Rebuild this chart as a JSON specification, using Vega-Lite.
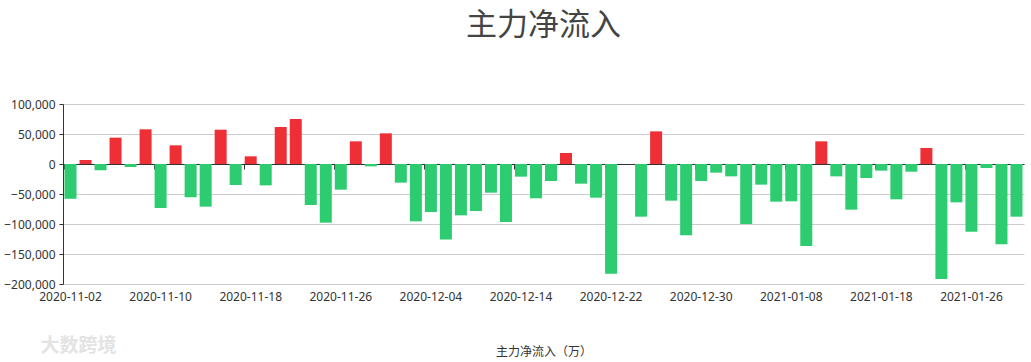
{
  "$schema": "https://vega.github.io/schema/vega-lite/v6.json",
  "width": 961,
  "height": 180,
  "autosize": {"type": "none"},
  "padding": {"left": 63, "top": 104, "right": 7, "bottom": 78},
  "background": "white",
  "title": {"text": "主力净流入", "font": "Noto Sans CJK SC", "fontSize": 31, "fontWeight": "normal", "color": "#444", "anchor": "middle", "offset": 56},
  "config": {"view": {"stroke": null}},
  "data": {"values": [
    {"date": "2020-11-02", "v": -58000},
    {"date": "2020-11-03", "v": 6700},
    {"date": "2020-11-04", "v": -10500},
    {"date": "2020-11-05", "v": 43900},
    {"date": "2020-11-06", "v": -5000},
    {"date": "2020-11-09", "v": 57800},
    {"date": "2020-11-10", "v": -73300},
    {"date": "2020-11-11", "v": 31100},
    {"date": "2020-11-12", "v": -55600},
    {"date": "2020-11-13", "v": -71100},
    {"date": "2020-11-16", "v": 57200},
    {"date": "2020-11-17", "v": -35000},
    {"date": "2020-11-18", "v": 12800},
    {"date": "2020-11-19", "v": -35600},
    {"date": "2020-11-20", "v": 61700},
    {"date": "2020-11-23", "v": 75000},
    {"date": "2020-11-24", "v": -68300},
    {"date": "2020-11-25", "v": -97800},
    {"date": "2020-11-26", "v": -42800},
    {"date": "2020-11-27", "v": 37800},
    {"date": "2020-11-30", "v": -3900},
    {"date": "2020-12-01", "v": 51100},
    {"date": "2020-12-02", "v": -31100},
    {"date": "2020-12-03", "v": -95600},
    {"date": "2020-12-04", "v": -80000},
    {"date": "2020-12-07", "v": -126000},
    {"date": "2020-12-08", "v": -85600},
    {"date": "2020-12-09", "v": -78300},
    {"date": "2020-12-10", "v": -47800},
    {"date": "2020-12-11", "v": -96700},
    {"date": "2020-12-14", "v": -21100},
    {"date": "2020-12-15", "v": -57200},
    {"date": "2020-12-16", "v": -28300},
    {"date": "2020-12-17", "v": 18300},
    {"date": "2020-12-18", "v": -32800},
    {"date": "2020-12-21", "v": -56100},
    {"date": "2020-12-22", "v": -182800},
    {"date": "2020-12-23", "v": 0},
    {"date": "2020-12-24", "v": -87800},
    {"date": "2020-12-25", "v": 54400},
    {"date": "2020-12-28", "v": -61100},
    {"date": "2020-12-29", "v": -118900},
    {"date": "2020-12-30", "v": -28300},
    {"date": "2020-12-31", "v": -14400},
    {"date": "2021-01-04", "v": -20600},
    {"date": "2021-01-05", "v": -100000},
    {"date": "2021-01-06", "v": -34400},
    {"date": "2021-01-07", "v": -62800},
    {"date": "2021-01-08", "v": -62200},
    {"date": "2021-01-11", "v": -136700},
    {"date": "2021-01-12", "v": 37800},
    {"date": "2021-01-13", "v": -20600},
    {"date": "2021-01-14", "v": -76100},
    {"date": "2021-01-15", "v": -23300},
    {"date": "2021-01-18", "v": -11100},
    {"date": "2021-01-19", "v": -58900},
    {"date": "2021-01-20", "v": -12800},
    {"date": "2021-01-21", "v": 26700},
    {"date": "2021-01-22", "v": -191700},
    {"date": "2021-01-25", "v": -63900},
    {"date": "2021-01-26", "v": -112800},
    {"date": "2021-01-27", "v": -6700},
    {"date": "2021-01-28", "v": -133900},
    {"date": "2021-01-29", "v": -87800}
  ]},
  "layer": [
    {
      "mark": {"type": "tick", "opacity": 0},
      "encoding": {
        "x": {
          "field": "date", "type": "ordinal", "sort": null,
          "axis": {
            "orient": "bottom", "offset": -120,
            "values": ["2020-11-02","2020-11-10","2020-11-18","2020-11-26","2020-12-04","2020-12-14","2020-12-22","2020-12-30","2021-01-08","2021-01-18","2021-01-26"],
            "labels": false, "title": null, "bandPosition": 0,
            "domainColor": "#333", "tickColor": "#333", "tickSize": 5, "grid": false
          }
        }
      }
    },
    {
      "mark": {"type": "bar"},
      "encoding": {
        "x": {
          "field": "date", "type": "ordinal", "sort": null,
          "scale": {"paddingInner": 0.2, "paddingOuter": 0.1},
          "axis": {
            "orient": "bottom",
            "values": ["2020-11-02","2020-11-10","2020-11-18","2020-11-26","2020-12-04","2020-12-14","2020-12-22","2020-12-30","2021-01-08","2021-01-18","2021-01-26"],
            "domain": false, "ticks": false, "labelAngle": 0, "labelPadding": 7,
            "labelFont": "Noto Sans", "labelFontSize": 12, "labelColor": "#333",
            "title": "主力净流入（万）", "titleFont": "Noto Sans CJK SC", "titleFontSize": 12,
            "titleFontWeight": "normal", "titleColor": "#333", "titlePadding": 44
          }
        },
        "y": {
          "field": "v", "type": "quantitative",
          "scale": {"domain": [-200000, 100000], "nice": false, "zero": false},
          "axis": {
            "values": [-200000, -150000, -100000, -50000, 0, 50000, 100000],
            "format": ",.0f", "labelFont": "Noto Sans", "labelFontSize": 12, "labelColor": "#333",
            "domainColor": "#333", "tickColor": "#333", "tickSize": 4, "labelPadding": 4,
            "gridColor": "#cccccc",
            "title": "大数跨境", "titleAngle": 0, "titleX": -23, "titleY": 241,
            "titleAlign": "left", "titleBaseline": "middle", "titleFont": "Noto Sans CJK SC",
            "titleFontSize": 19, "titleFontWeight": "bold", "titleColor": "#e3e3e3"
          }
        },
        "color": {"condition": {"test": "datum.v >= 0", "value": "#ee3036"}, "value": "#2ecc71"}
      }
    }
  ],
  "resolve": {"axis": {"x": "independent"}}
}
